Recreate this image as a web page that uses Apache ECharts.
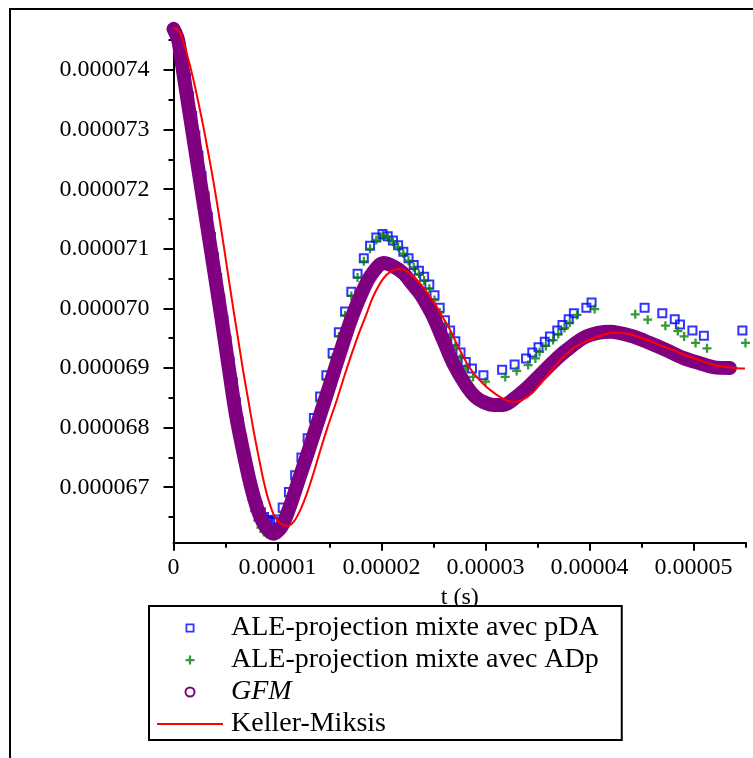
<!DOCTYPE html>
<html>
<head>
<meta charset="utf-8">
<script src="https://cdn.jsdelivr.net/npm/echarts@6/dist/echarts.min.js"></script>
<style>
html,body{margin:0;padding:0;background:#fff;}
#chart{width:753px;height:758px;}
</style>
</head>
<body>
<div id="chart"></div>
<script>
// time in microseconds (x 1e-6 s), radius in units of 1e-6
const seriesNames = ['ALE-projection mixte avec pDA', 'ALE-projection mixte avec ADp', 'GFM', 'Keller-Miksis'];
const xMajorTicks = [0, 10, 20, 30, 40, 50];
const xMinorTicks = [5, 15, 25, 35, 45, 55];
const yMajorTicks = [67, 68, 69, 70, 71, 72, 73, 74];
const yMinorTicks = [66.5, 67.5, 68.5, 69.5, 70.5, 71.5, 72.5, 73.5, 74.5];

const pdaT = [0,0.3,0.6,0.9,1.2,1.5,1.8,2.1,2.4,2.7,3.0,3.3,3.6,3.9,4.2,4.5,4.8,5.1,5.4,5.7,6.0,6.3,6.6,6.9,7.2,7.5,7.8,8.1,8.4,8.7,9.0,9.3,9.6,9.9,
  10.5,11.1,11.7,12.3,12.9,13.5,14.1,14.7,15.3,15.9,16.5,17.1,17.7,18.3,18.9,19.5,20.1,
  20.6,21.1,21.6,22.1,22.6,23.1,23.6,24.1,24.6,25.1,25.6,26.1,26.6,27.1,27.6,28.1,
  28.7,29.8,31.6,32.8,33.9,34.5,35.1,35.7,36.2,36.9,37.4,38.0,38.5,39.7,40.2,
  45.3,47.0,48.2,48.7,49.9,51.0,54.7];
const pdaR = [74.68,74.6,74.42,74.16,73.87,73.56,73.23,72.9,72.56,72.22,71.88,71.54,71.2,70.86,70.51,70.16,69.81,69.46,69.11,68.76,68.42,68.1,67.8,67.52,67.26,67.03,66.84,66.69,66.58,66.5,66.45,66.43,66.42,66.46,
  66.66,66.92,67.2,67.5,67.82,68.16,68.52,68.88,69.25,69.6,69.95,70.28,70.58,70.84,71.05,71.19,71.25,
  71.21,71.14,71.06,70.95,70.84,70.73,70.63,70.53,70.4,70.22,70.01,69.8,69.63,69.45,69.26,69.1,
  68.99,68.88,68.97,69.06,69.16,69.26,69.35,69.44,69.53,69.63,69.72,69.82,69.92,70.01,70.10,
  70.01,69.92,69.82,69.73,69.63,69.54,69.63];

const adpT = [0,0.3,0.6,0.9,1.2,1.5,1.8,2.1,2.4,2.7,3.0,3.3,3.6,3.9,4.2,4.5,4.8,5.1,5.4,5.7,6.0,6.3,6.6,6.9,7.2,7.5,7.8,8.1,8.4,8.7,9.0,9.3,9.6,9.9,
  10.5,11.1,11.7,12.3,12.9,13.5,14.1,14.7,15.3,15.9,16.5,17.1,17.7,18.3,18.9,19.5,20.1,
  20.6,21.1,21.6,22.1,22.6,23.1,23.6,24.1,24.6,25.1,25.6,26.1,26.6,27.1,27.6,28.1,
  28.8,30.0,31.9,33.0,34.1,34.8,35.2,35.8,36.5,37.0,37.6,38.1,38.8,40.5,
  44.4,45.6,47.3,48.5,49.1,50.2,51.3,55.0];
const adpR = [74.66,74.56,74.36,74.08,73.77,73.45,73.12,72.78,72.44,72.1,71.76,71.42,71.07,70.72,70.37,70.01,69.65,69.29,68.93,68.58,68.24,67.91,67.6,67.31,67.04,66.8,66.6,66.44,66.32,66.25,66.22,66.22,66.26,66.34,
  66.58,66.84,67.12,67.42,67.74,68.08,68.44,68.8,69.17,69.53,69.88,70.21,70.52,70.79,71.0,71.15,71.22,
  71.19,71.12,71.03,70.92,70.8,70.69,70.58,70.47,70.33,70.14,69.93,69.72,69.54,69.36,69.17,69.0,
  68.85,68.77,68.85,68.95,69.05,69.16,69.27,69.37,69.47,69.57,69.67,69.76,69.89,69.99,
  69.90,69.81,69.71,69.62,69.53,69.42,69.33,69.42];

const gfmT = [0,0.45,0.9,1.65,2.4,3.15,3.9,4.6,5.3,6.0,6.7,7.4,8.1,8.8,9.6,10.4,11.2,12.0,13.0,14.0,15.0,16.0,17.0,18.0,19.0,20.2,21.2,22.1,23.0,23.7,24.4,24.98,25.94,26.9,28.2,29.0,29.8,30.8,31.7,33.0,34.2,35.24,36.5,37.8,39.7,42.0,44.2,45.8,47.4,49.0,50.6,52.0,53.5];
const gfmR = [74.69,74.5,74.0,73.16,72.32,71.48,70.64,69.85,69.02,68.22,67.6,67.05,66.62,66.35,66.22,66.34,66.68,67.1,67.62,68.16,68.7,69.25,69.78,70.22,70.56,70.76,70.7,70.59,70.4,70.25,70.05,69.86,69.47,69.08,68.69,68.52,68.43,68.38,68.38,68.52,68.7,68.88,69.1,69.3,69.53,69.61,69.53,69.42,69.3,69.17,69.08,69.01,69.0];

const kmT = [0,0.4,0.8,1.27,1.9,2.4,2.87,3.3,3.77,4.2,4.7,5.2,5.7,6.2,6.7,7.2,7.7,8.2,8.7,9.2,9.7,10.3,11.0,11.6,12.2,12.8,13.4,14.0,14.8,15.7,16.4,17.1,17.8,18.5,19.2,20.17,21.0,21.78,22.6,23.7,24.5,25.3,26.0,26.6,27.2,27.87,28.5,29.15,30.1,31.08,32.0,32.67,33.5,34.5,35.4,36.2,37.2,38.2,39.1,40.7,41.8,42.9,44.2,45.5,46.8,48.06,49.3,50.6,51.8,52.9,54.0,54.95];
const kmR = [74.70,74.68,74.55,74.28,73.85,73.45,73.05,72.65,72.2,71.75,71.2,70.62,70.05,69.5,68.95,68.45,67.95,67.5,67.08,66.75,66.52,66.39,66.35,66.43,66.62,66.88,67.2,67.55,68.0,68.46,68.85,69.22,69.57,69.88,70.2,70.5,70.63,70.66,70.6,70.42,70.24,70.03,69.82,69.64,69.42,69.19,69.0,68.85,68.68,68.55,68.46,68.43,68.46,68.58,68.76,68.93,69.13,69.3,69.4,69.52,69.58,69.59,69.55,69.47,69.38,69.3,69.21,69.13,69.06,69.02,69.0,68.99];

function zip(a, b) { return a.map(function (v, i) { return [v, b[i]]; }); }

const FONT = 'Liberation Serif';
const X_MIN = 0, X_MAX = 55.05, Y_MIN = 66.069, Y_MAX = 74.705;
const GRID = { left: 173.5, top: 28, width: 572.5, height: 514.7 };
const plusPath = 'path://M3,0H5V3H8V5H5V8H3V5H0V3H3Z';
const squareIcon = 'path://M0,0H10V10H0Z M2,2V8H8V2Z';
const lineIcon = 'path://M0,0H66V2H0Z';

const chart = echarts.init(document.getElementById('chart'), null, { renderer: 'canvas' });
chart.setOption({
  animation: false,
  backgroundColor: '#fff',
  graphic: [{
    type: 'rect', silent: true, z: 0,
    shape: { x: 10, y: 9, width: 900, height: 900 },
    style: { fill: null, stroke: '#000', lineWidth: 2 }
  }],
  grid: [
    { left: GRID.left, top: GRID.top, width: GRID.width, height: GRID.height },
    { left: GRID.left, top: GRID.top, width: GRID.width, height: GRID.height }
  ],
  xAxis: [{
    gridIndex: 0, type: 'value', min: X_MIN, max: X_MAX, position: 'bottom',
    name: 't (s)', nameLocation: 'middle', nameGap: 43,
    nameTextStyle: { fontFamily: FONT, fontSize: 24, color: '#000' },
    axisLine: { show: true, onZero: false, lineStyle: { color: '#000', width: 2 } },
    axisTick: { show: true, length: 8, customValues: xMajorTicks, lineStyle: { color: '#000', width: 2 } },
    axisLabel: {
      customValues: xMajorTicks, margin: 13, fontFamily: FONT, fontSize: 24, color: '#000',
      formatter: function (v) { return v === 0 ? '0' : (v * 1e-6).toFixed(5); }
    },
    splitLine: { show: false }
  }, {
    gridIndex: 1, type: 'value', min: X_MIN, max: X_MAX, position: 'bottom',
    axisLine: { show: false, onZero: false },
    axisTick: { show: true, length: 5, customValues: xMinorTicks, lineStyle: { color: '#000', width: 2 } },
    axisLabel: { show: false },
    splitLine: { show: false }
  }],
  yAxis: [{
    gridIndex: 0, type: 'value', min: Y_MIN, max: Y_MAX, position: 'left',
    axisLine: { show: true, onZero: false, lineStyle: { color: '#000', width: 2 } },
    axisTick: { show: true, length: 10, customValues: yMajorTicks, lineStyle: { color: '#000', width: 2 } },
    axisLabel: {
      customValues: yMajorTicks, margin: 24, fontFamily: FONT, fontSize: 24, color: '#000',
      formatter: function (v) { return (v * 1e-6).toFixed(6); }
    },
    splitLine: { show: false }
  }, {
    gridIndex: 1, type: 'value', min: Y_MIN, max: Y_MAX, position: 'left',
    axisLine: { show: false, onZero: false },
    axisTick: { show: true, length: 5, customValues: yMinorTicks, lineStyle: { color: '#000', width: 2 } },
    axisLabel: { show: false },
    splitLine: { show: false }
  }],
  legend: {
    orient: 'vertical', left: 149, top: 606,
    padding: [8, 23, 2, 8], itemGap: 4, itemWidth: 66, itemHeight: 9,
    borderColor: '#000', borderWidth: 2, backgroundColor: '#fff',
    selectedMode: false,
    textStyle: {
      fontFamily: FONT, fontSize: 28, color: '#000', padding: [0, 0, 0, 3],
      rich: { i: { fontFamily: FONT, fontSize: 28, fontStyle: 'italic', color: '#000' } }
    },
    formatter: function (name) { return name === 'GFM' ? '{i|GFM}' : name; },
    data: [
      { name: seriesNames[0], icon: squareIcon, itemStyle: { color: '#0000ff', borderWidth: 0 } },
      { name: seriesNames[1], icon: plusPath, itemStyle: { color: '#008000', borderWidth: 0 } },
      { name: seriesNames[2], icon: 'emptyCircle', itemStyle: { color: '#800080' } },
      { name: seriesNames[3], icon: lineIcon, itemStyle: { color: '#ff0000', borderWidth: 0 } }
    ]
  },
  series: [{
    name: seriesNames[0], type: 'scatter', xAxisIndex: 0, yAxisIndex: 0,
    symbol: 'rect', symbolSize: 8, clip: false,
    itemStyle: { color: 'rgba(0,0,0,0)', borderColor: '#0000ff', borderWidth: 2 },
    data: zip(pdaT, pdaR)
  }, {
    name: seriesNames[1], type: 'scatter', xAxisIndex: 0, yAxisIndex: 0,
    symbol: plusPath, symbolSize: 9, clip: false,
    itemStyle: { color: '#008000' },
    data: zip(adpT, adpR)
  }, {
    name: seriesNames[2], type: 'line', xAxisIndex: 0, yAxisIndex: 0,
    symbol: 'none', showSymbol: false, smooth: 0.3, clip: false,
    itemStyle: { color: '#800080' },
    lineStyle: { color: '#800080', width: 14, cap: 'round', join: 'round' },
    data: zip(gfmT, gfmR)
  }, {
    name: seriesNames[3], type: 'line', xAxisIndex: 0, yAxisIndex: 0,
    symbol: 'none', showSymbol: false, smooth: 0.3, clip: false,
    itemStyle: { color: '#ff0000' },
    lineStyle: { color: '#ff0000', width: 2 },
    data: zip(kmT, kmR)
  }]
});
</script>
</body>
</html>
